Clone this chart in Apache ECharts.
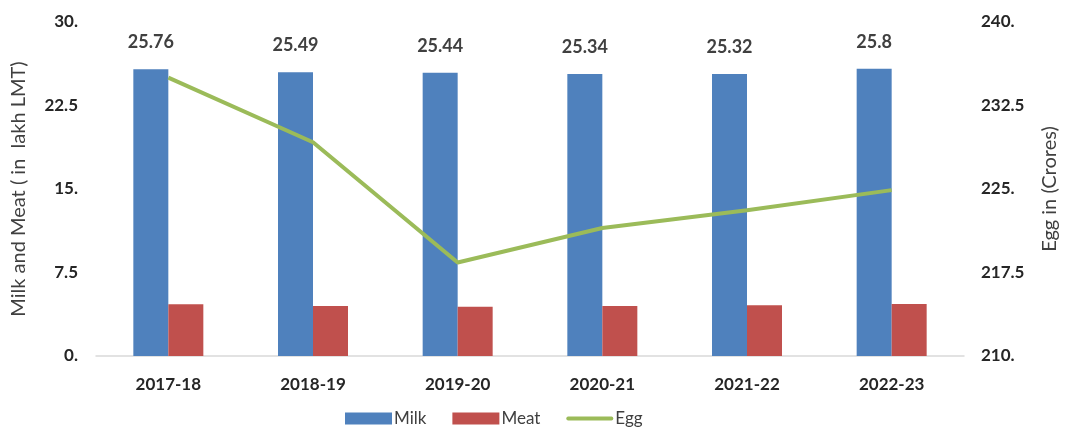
<!DOCTYPE html>
<html>
<head>
<meta charset="utf-8">
<script src="https://cdn.jsdelivr.net/npm/echarts@6/dist/echarts.min.js"></script>
<style>html,body{margin:0;padding:0;background:#fff;}#c{width:1068px;height:427px;}</style>
</head>
<body>
<div id="c"></div>
<script>
const categories = ['2017-18', '2018-19', '2019-20', '2020-21', '2021-22', '2022-23'];
const milk = [25.76, 25.49, 25.44, 25.34, 25.32, 25.8];
const meat = [4.64, 4.49, 4.42, 4.49, 4.55, 4.68];
const egg = [235.0, 229.2, 218.4, 221.5, 223.1, 224.9];
const leftTicks = { min: 0, max: 30, interval: 7.5 };
const rightTicks = { min: 210, max: 240, interval: 7.5 };

const FONT = 'Lato, "Open Sans", sans-serif';
const fmt = v => Number.isInteger(v) ? v + '.' : String(v);

const chart = echarts.init(document.getElementById('c'), null, { renderer: 'canvas' });
chart.setOption({
  animation: false,
  backgroundColor: '#ffffff',
  textStyle: { fontFamily: FONT },
  grid: { left: 96, right: 100, top: 22, bottom: 71, containLabel: false },
  legend: {
    top: 410,
    left: 345,
    padding: 0,
    itemWidth: 47,
    itemHeight: 12,
    itemGap: 26,
    textStyle: { fontFamily: FONT, fontSize: 17, color: '#404040', padding: [0, 0, 0, -3] },
    data: [
      { name: 'Milk', icon: 'rect' },
      { name: 'Meat', icon: 'rect' },
      { name: 'Egg', icon: 'path://M2,0 L48,0 A2,2 0 0 1 48,4 L2,4 A2,2 0 0 1 2,0 Z' }
    ]
  },
  xAxis: {
    type: 'category',
    data: categories,
    axisLine: { lineStyle: { color: '#d9d9d9', width: 1.5 } },
    axisTick: { show: false },
    axisLabel: { fontFamily: FONT, fontSize: 17, fontWeight: 'bold', color: '#262626', margin: 20 },
    splitLine: { show: false }
  },
  yAxis: [
    {
      type: 'value',
      min: leftTicks.min, max: leftTicks.max, interval: leftTicks.interval,
      name: 'Milk and Meat ( in  lakh LMT)',
      nameLocation: 'middle',
      nameGap: 67,
      nameTextStyle: { fontFamily: FONT, fontSize: 20, color: '#404040' },
      axisLine: { show: false },
      axisTick: { show: false },
      splitLine: { show: false },
      axisLabel: { fontFamily: FONT, fontSize: 17, fontWeight: 'bold', color: '#262626', margin: 18, formatter: fmt }
    },
    {
      type: 'value',
      min: rightTicks.min, max: rightTicks.max, interval: rightTicks.interval,
      name: 'Egg in (Crores)',
      nameLocation: 'middle',
      nameGap: 76,
      nameRotate: 90,
      nameTextStyle: { fontFamily: FONT, fontSize: 20, color: '#404040' },
      axisLine: { show: false },
      axisTick: { show: false },
      splitLine: { show: false },
      axisLabel: { fontFamily: FONT, fontSize: 17, fontWeight: 'bold', color: '#262626', margin: 17, formatter: fmt }
    }
  ],
  series: [
    {
      name: 'Milk', type: 'bar', data: milk, barWidth: 35, barGap: '0%',
      itemStyle: { color: '#4F81BD' },
      label: { show: true, position: 'top', distance: 18, fontFamily: FONT, fontSize: 18, fontWeight: 'bold', color: '#404040' }
    },
    {
      name: 'Meat', type: 'bar', data: meat, barWidth: 35,
      itemStyle: { color: '#C0504D' }
    },
    {
      name: 'Egg', type: 'line', yAxisIndex: 1, data: egg,
      showSymbol: false, symbol: 'none',
      lineStyle: { color: '#9BBB59', width: 4 },
      itemStyle: { color: '#9BBB59' }
    }
  ]
});
</script>
</body>
</html>
